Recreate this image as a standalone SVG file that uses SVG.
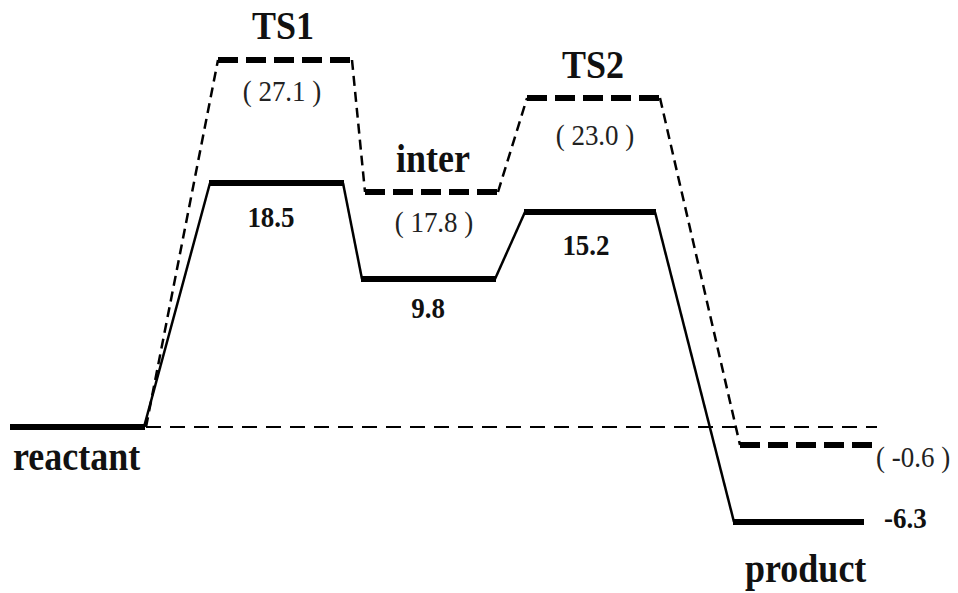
<svg xmlns="http://www.w3.org/2000/svg" width="958" height="593" viewBox="0 0 958 593">
  <style>
    .lvl { stroke: #000; stroke-width: 6; fill: none; }
    .lvl-d { stroke: #000; stroke-width: 6; fill: none; stroke-dasharray: 20 8; }
    .slope { stroke: #000; stroke-width: 2.5; fill: none; stroke-linejoin: round; }
    .slope-d { stroke: #000; stroke-width: 2.5; fill: none; stroke-dasharray: 10 6; }
    .ref { stroke: #000; stroke-width: 2; fill: none; stroke-dasharray: 15 9; }
    text { font-family: "Liberation Serif", "Times New Roman", serif; }
    .lab { font-weight: bold; font-size: 36px; fill: #111; }
    .val { font-weight: bold; font-size: 27px; fill: #111; }
    .alt { font-size: 27px; fill: #222; }
  </style>
  <rect width="958" height="593" fill="#fff"/>

  <!-- connectors: zero reference line and slopes between levels -->
  <g id="connectors">
    <line class="ref" x1="146" y1="427" x2="877" y2="427"/>
    <!-- solid pathway -->
    <line class="slope" x1="144" y1="427" x2="210" y2="183"/>
    <line class="slope" x1="343" y1="183" x2="362" y2="279"/>
    <line class="slope" x1="495" y1="279" x2="525" y2="212"/>
    <line class="slope" x1="655" y1="212" x2="734" y2="522"/>
    <!-- dashed pathway -->
    <line class="slope-d" x1="146" y1="427" x2="218" y2="60"/>
    <line class="slope-d" x1="352" y1="60" x2="365" y2="192"/>
    <line class="slope-d" x1="498" y1="192" x2="527" y2="98"/>
    <line class="slope-d" x1="660" y1="98" x2="740" y2="445"/>
  </g>

  <!-- labels are drawn slightly taller than wide (scale 1 x 1.12) -->
  <g id="reactant">
    <line class="lvl" x1="10" y1="427" x2="145" y2="427"/>
    <text class="lab" transform="translate(13,470) scale(1,1.12)">reactant</text>
  </g>

  <g id="TS1">
    <line class="lvl" x1="209" y1="183" x2="344" y2="183"/>
    <line class="lvl-d" x1="218" y1="60" x2="352" y2="60"/>
    <text class="lab" text-anchor="middle" transform="translate(283,39) scale(1,1.12)">TS1</text>
    <text class="val" text-anchor="middle" transform="translate(271,227) scale(1,1.12)">18.5</text>
    <text class="alt" text-anchor="middle" transform="translate(282,101) scale(1,1.12)">( 27.1 )</text>
  </g>

  <g id="inter">
    <line class="lvl" x1="361" y1="279" x2="496" y2="279"/>
    <line class="lvl-d" x1="365" y1="192" x2="498" y2="192"/>
    <text class="lab" text-anchor="middle" transform="translate(433,172) scale(1,1.12)">inter</text>
    <text class="val" text-anchor="middle" transform="translate(428,318) scale(1,1.12)">9.8</text>
    <text class="alt" text-anchor="middle" transform="translate(434,232) scale(1,1.12)">( 17.8 )</text>
  </g>

  <g id="TS2">
    <line class="lvl" x1="524" y1="212" x2="656" y2="212"/>
    <line class="lvl-d" x1="527" y1="98" x2="660" y2="98"/>
    <text class="lab" text-anchor="middle" transform="translate(593,78) scale(1,1.12)">TS2</text>
    <text class="val" text-anchor="middle" transform="translate(586,255) scale(1,1.12)">15.2</text>
    <text class="alt" text-anchor="middle" transform="translate(595,145) scale(1,1.12)">( 23.0 )</text>
  </g>

  <g id="product">
    <line class="lvl" x1="733" y1="522" x2="864" y2="522"/>
    <line class="lvl-d" x1="740" y1="445" x2="872" y2="445"/>
    <text class="lab" transform="translate(745,582) scale(1,1.12)">product</text>
    <text class="val" transform="translate(884,528) scale(1,1.12)">-6.3</text>
    <text class="alt" transform="translate(876,467) scale(1,1.12)">( -0.6 )</text>
  </g>
</svg>
